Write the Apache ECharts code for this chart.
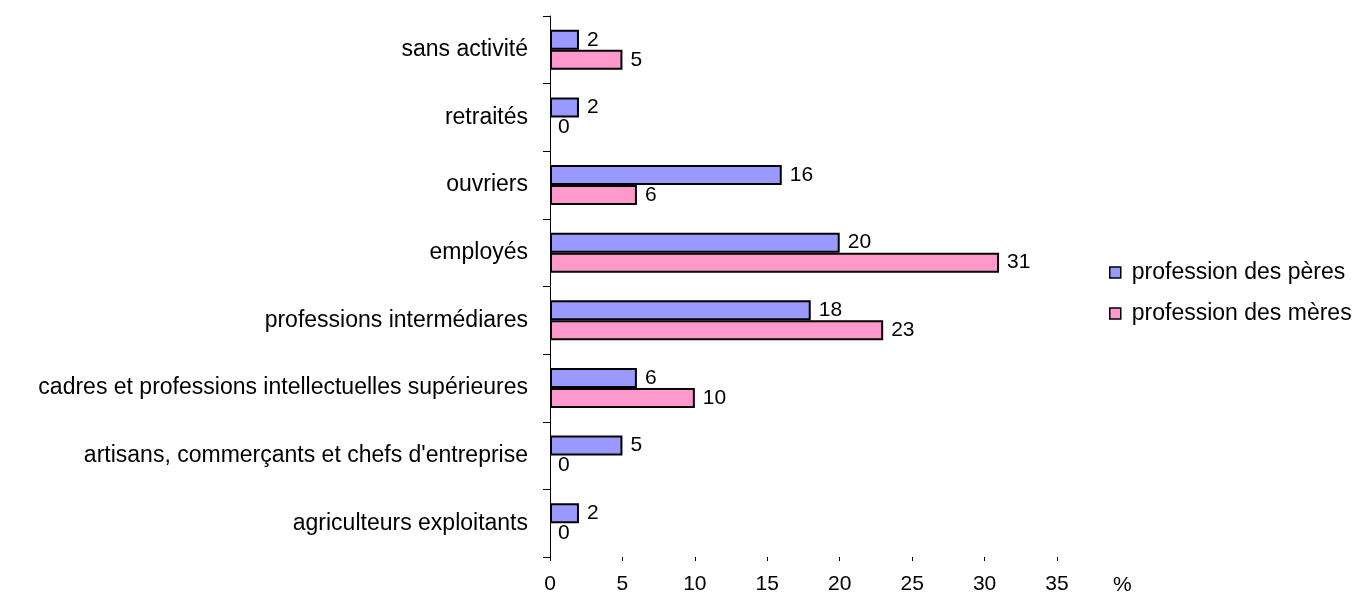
<!DOCTYPE html>
<html>
<head>
<meta charset="utf-8">
<script src="https://cdn.jsdelivr.net/npm/echarts@6/dist/echarts.min.js"></script>
<style>
  html, body { margin: 0; padding: 0; background: #fff; }
  #chart { width: 1368px; height: 596px; }
</style>
</head>
<body>
<div id="chart"></div>
<script>
// categories from bottom to top
const categories = [
  'agriculteurs exploitants',
  "artisans, commerçants et chefs d'entreprise",
  'cadres et professions intellectuelles supérieures',
  'professions intermédiares',
  'employés',
  'ouvriers',
  'retraités',
  'sans activité'
]
const peres = [2, 5, 6, 18, 20, 16, 2, 2]
const meres = [0, 0, 10, 23, 31, 6, 0, 5]
const xTicks = [0, 5, 10, 15, 20, 25, 30, 35]

const FONT = 'Liberation Sans, Arial, sans-serif'

const chart = echarts.init(document.getElementById('chart'), null, { renderer: 'canvas' })

const labelStyle = {
  show: true,
  position: 'right',
  distance: 8,
  color: '#000',
  fontSize: 21,
  fontFamily: FONT,
}

// zero-length bars: no outline, so only the label shows
const toData = arr => arr.map(v => (v === 0 ? { value: v, itemStyle: { borderWidth: 0 } } : v))

chart.setOption({
  animation: false,
  textStyle: { fontFamily: FONT },
  grid: { left: 550, right: 311, top: 16, bottom: 37 },
  legend: {
    orient: 'vertical',
    left: 1104,
    top: 256,
    itemWidth: 11,
    itemHeight: 11,
    itemGap: 18,
    icon: 'rect',
    itemStyle: { borderWidth: 1.5 },
    textStyle: { color: '#000', fontSize: 23, fontFamily: FONT, padding: [0, 0, 0, 6] },
    data: ['profession des pères', 'profession des mères'],
  },
  xAxis: {
    type: 'value',
    min: xTicks[0],
    max: xTicks[xTicks.length - 1],
    interval: 5,
    name: '%',
    nameLocation: 'end',
    nameGap: 56,
    nameTextStyle: { color: '#000', fontSize: 21, fontFamily: FONT, verticalAlign: 'top', padding: [18, 0, 0, 0] },
    axisLine: { lineStyle: { color: '#000', width: 1 } },
    axisTick: { show: true, length: 4, lineStyle: { color: '#000' } },
    axisLabel: { color: '#000', fontSize: 21, fontFamily: FONT, margin: 17 },
    splitLine: { show: false },
  },
  yAxis: {
    type: 'category',
    data: categories,
    axisLine: { lineStyle: { color: '#000', width: 1 } },
    axisTick: { show: true, length: 7, lineStyle: { color: '#000' } },
    axisLabel: { color: '#000', fontSize: 23, fontFamily: FONT, margin: 22 },
  },
  series: [
    {
      name: 'profession des pères',
      type: 'bar',
      data: toData(peres),
      barWidth: 20,
      barGap: '0%',
      itemStyle: { color: '#9999FF', borderColor: '#000', borderWidth: 2 },
      label: labelStyle,
    },
    {
      name: 'profession des mères',
      type: 'bar',
      data: toData(meres),
      barWidth: 20,
      itemStyle: { color: '#FF99CC', borderColor: '#000', borderWidth: 2 },
      label: labelStyle,
    },
  ],
})
</script>
</body>
</html>
